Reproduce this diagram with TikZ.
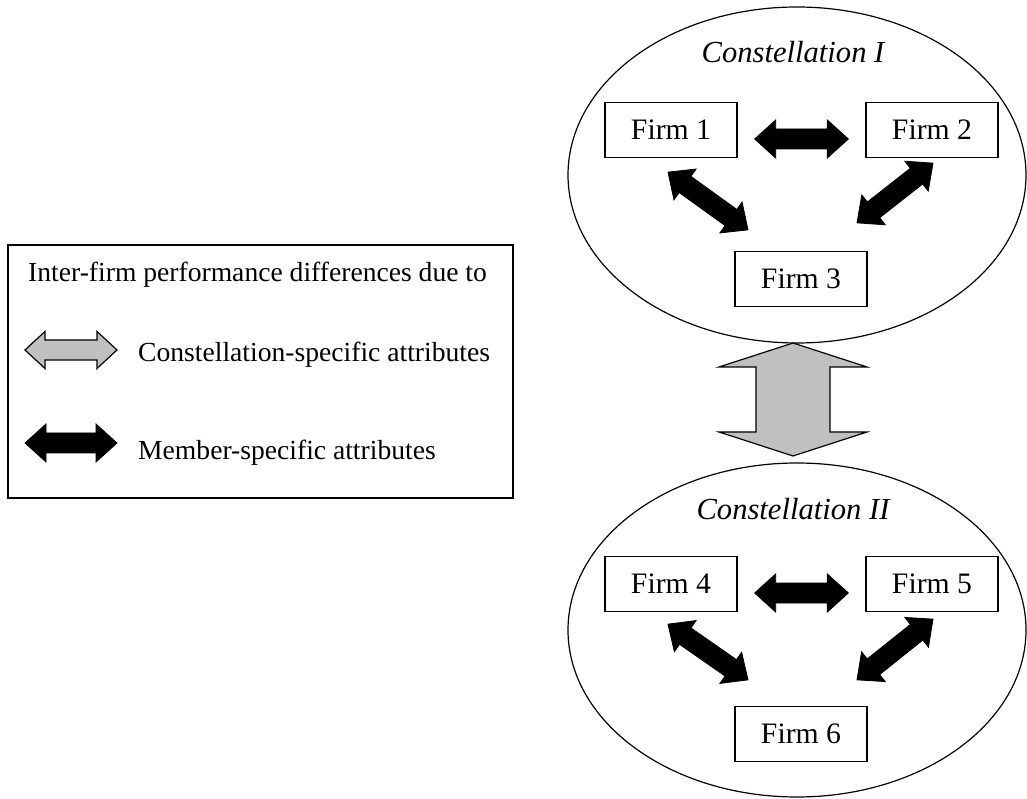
\documentclass[tikz,border=0pt]{standalone}
\usepackage{fontspec}
\setmainfont{Liberation Serif}
\usetikzlibrary{calc,shapes.geometric}
\definecolor{constgray}{RGB}{192,192,192}

% block double arrow: style, from, to, head half width, shaft half width, head length
\newcommand{\fatarrow}[6]{%
  \coordinate (fas) at (#2);
  \coordinate (fae) at (#3);
  \coordinate (fh1) at ($(fas)!#6!(fae)$);
  \coordinate (fh2) at ($(fae)!#6!(fas)$);
  \draw[#1] (fas) -- ($(fh1)!#4!90:(fae)$) -- ($(fh1)!#5!90:(fae)$) -- ($(fh2)!#5!-90:(fas)$) -- ($(fh2)!#4!-90:(fas)$)
    -- (fae) -- ($(fh2)!#4!90:(fas)$) -- ($(fh2)!#5!90:(fas)$) -- ($(fh1)!#5!-90:(fae)$) -- ($(fh1)!#4!-90:(fae)$) -- cycle;}
\newcommand{\memberarrow}[2]{\fatarrow{member}{#1}{#2}{19pt}{10pt}{21pt}}

\begin{document}
\begin{tikzpicture}[x=1pt,y=1pt,firm/.style={draw, line width=1.3pt, minimum width=132pt, minimum height=55pt, inner sep=0pt, font=\fontsize{29.7}{36}\selectfont},region/.style={ellipse, draw, line width=1.2pt, minimum width=458pt, minimum height=336pt, inner sep=0pt, outer sep=0pt},title/.style={anchor=base, font=\fontsize{30.6}{36}\selectfont\itshape},member/.style={fill=black, draw=black, line width=0.8pt},constell/.style={fill=constgray, draw=black, line width=1.2pt},legendtext/.style={anchor=base west, inner sep=0pt, font=\fontsize{27.6}{33}\selectfont}]
\useasboundingbox (0,0) rectangle (1027,798);
% constellation I
\node[region] (c1) at (797,623) {};
\node[title] (t1) at (793,735) {Constellation I};
\node[firm] (f1) at (671,668) {Firm 1};
\node[firm] (f2) at (932,668) {Firm 2};
\node[firm] (f3) at (801,519) {Firm 3};
\memberarrow{$(f1.east)+(17,-9)$}{$(f2.west)+(-17,-9)$}
\memberarrow{$(f1.south)+(-3,-14)$}{$(f3.north)+(-53,21)$}
\memberarrow{$(f2.south)+(1,-5)$}{$(f3.north)+(56,28)$}
% constellation II
\node[region, minimum height=334pt] (c2) at (797,168) {};
\node[title] (t2) at (793,278) {Constellation II};
\node[firm] (f4) at (671,214) {Firm 4};
\node[firm] (f5) at (932,214) {Firm 5};
\node[firm] (f6) at (801,64) {Firm 6};
\memberarrow{$(f4.east)+(17,-9)$}{$(f5.west)+(-17,-9)$}
\memberarrow{$(f4.south)+(-3,-12)$}{$(f6.north)+(-53,26)$}
\memberarrow{$(f5.south)+(1,-7)$}{$(f6.north)+(56,26)$}
% between the constellations
\fatarrow{constell}{$(c1.south)+(-4,0)$}{$(c2.north)+(-4,7)$}{74pt}{37pt}{24pt}
% legend
\node[draw, line width=1.3pt, minimum width=505pt, minimum height=253pt, inner sep=0pt] (leg) at (260.5,426.5) {};
\node[legendtext] (lhead) at (28,516) {Inter-firm performance differences due to};
\coordinate (gs) at (25,448); \coordinate (ge) at (117,448);
\coordinate (bs) at (25,355); \coordinate (be) at (117,355);
\fatarrow{constell}{gs}{ge}{18.5pt}{10pt}{20pt}
\node[legendtext] (lconst) at (138,436) {Constellation-specific attributes};
\memberarrow{bs}{be}
\node[legendtext] (lmember) at (138,338) {Member-specific attributes};
\end{tikzpicture}
\end{document}
